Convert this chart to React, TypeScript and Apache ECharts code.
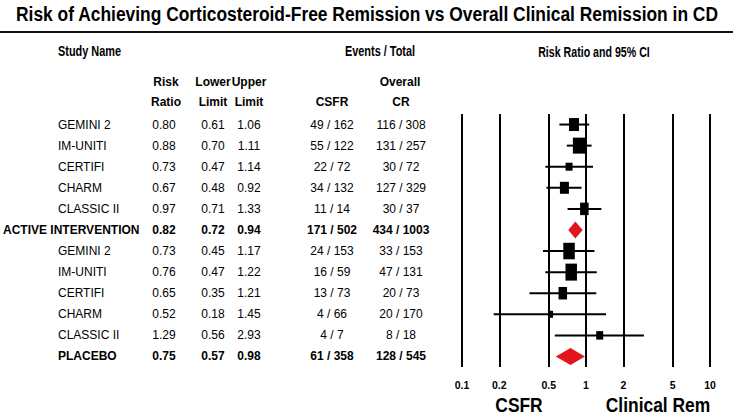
import React, { useEffect, useRef } from "react";
import * as echarts from "echarts";

const studyNames = [
  "GEMINI 2", "IM-UNITI", "CERTIFI", "CHARM", "CLASSIC II", "ACTIVE INTERVENTION",
  "GEMINI 2", "IM-UNITI", "CERTIFI", "CHARM", "CLASSIC II", "PLACEBO",
];
const summaryRows = [5, 11];
const outdentRows = [5];
const riskRatio = [0.80, 0.88, 0.73, 0.67, 0.97, 0.82, 0.73, 0.76, 0.65, 0.52, 1.29, 0.75];
const lowerLimit = [0.61, 0.70, 0.47, 0.48, 0.71, 0.72, 0.45, 0.47, 0.35, 0.18, 0.56, 0.57];
const upperLimit = [1.06, 1.11, 1.14, 0.92, 1.33, 0.94, 1.17, 1.22, 1.21, 1.45, 2.93, 0.98];
const csfrEvents = [
  "49 / 162", "55 / 122", "22 / 72", "34 / 132", "11 / 14", "171 / 502",
  "24 / 153", "16 / 59", "13 / 73", "4 / 66", "4 / 7", "61 / 358",
];
const overallCrEvents = [
  "116 / 308", "131 / 257", "30 / 72", "127 / 329", "30 / 37", "434 / 1003",
  "33 / 153", "47 / 131", "20 / 73", "20 / 170", "8 / 18", "128 / 545",
];
const xTickValues = [0.1, 0.2, 0.5, 1, 2, 5, 10];

// marker sizes (study weights) [width, height]
const markerSizes: (number[] | null)[] = [
  [10, 13], [12.5, 16], [7, 8], [9, 12], [8.5, 12.5], null,
  [11.5, 16.5], [11.5, 17], [8.5, 12.5], [4.5, 7], [7, 8.5], null,
];

const FONT = "'Liberation Sans', Arial, Helvetica, sans-serif";
const GRID_LEFT = 462;
const W = 733;
const H = 418;

function fmtNum(v: number) {
  return v.toFixed(2);
}

function columnAxis(offset: number, align: string, text: (i: number) => string) {
  return {
    type: "category",
    gridIndex: 0,
    position: "left",
    offset,
    inverse: true,
    data: studyNames.map((_, i) => String(i)),
    axisLine: { show: false },
    axisTick: { show: false },
    splitLine: { show: false },
    axisLabel: {
      show: true,
      interval: 0,
      hideOverlap: false,
      margin: 0,
      align,
      formatter: (_v: string, i: number) => {
        const t = text(i);
        if (!t) return "";
        return summaryRows.includes(i) ? `{b|${t}}` : `{n|${t}}`;
      },
      rich: {
        b: { fontFamily: FONT, fontSize: 12, fontWeight: "bold", color: "#000" },
        n: { fontFamily: FONT, fontSize: 12, color: "#000" },
      },
    },
  };
}

export default function App() {
  const ref = useRef<HTMLDivElement>(null);
  useEffect(() => {
    if (!ref.current) return;
    const chart = echarts.init(ref.current, null, { renderer: "svg" });
    const rows = studyNames.map((_, i) => i);
    const studyRows = rows.filter((i) => !summaryRows.includes(i));

    const hdr = (text: string, x: number, y: number, opts: any = {}) => ({
      type: "text",
      x,
      y,
      scaleX: opts.scaleX || 1,
      style: {
        text,
        fill: "#000",
        align: opts.align || "center",
        verticalAlign: "middle",
        font: opts.font || `bold 12px ${FONT}`,
      },
    });

    const option: any = {
      animation: false,
      backgroundColor: "#fff",
      grid: { left: GRID_LEFT, right: W - 710, top: 114, bottom: H - 367, containLabel: false },
      xAxis: {
        type: "log",
        logBase: 10,
        min: 0.1,
        max: 10,
        axisLine: { show: false },
        axisTick: { show: false },
        splitLine: { show: false },
        axisLabel: {
          customValues: xTickValues,
          margin: 12,
          fontFamily: FONT,
          fontWeight: "bold",
          fontSize: 10.5,
          color: "#000",
          formatter: (v: number) => String(+Number(v).toPrecision(2)),
        },
      },
      yAxis: [
        {
          type: "category",
          gridIndex: 0,
          inverse: true,
          data: studyNames.map((_, i) => String(i)),
          show: false,
        },
        columnAxis(GRID_LEFT - 58, "left", (i) => (outdentRows.includes(i) ? "" : studyNames[i])),
        columnAxis(GRID_LEFT - 3, "left", (i) => (outdentRows.includes(i) ? studyNames[i] : "")),
        columnAxis(GRID_LEFT - 164, "center", (i) => fmtNum(riskRatio[i])),
        columnAxis(GRID_LEFT - 213, "center", (i) => fmtNum(lowerLimit[i])),
        columnAxis(GRID_LEFT - 249, "center", (i) => fmtNum(upperLimit[i])),
        columnAxis(GRID_LEFT - 332, "center", (i) => csfrEvents[i]),
        columnAxis(GRID_LEFT - 401, "center", (i) => overallCrEvents[i]),
      ],
      series: [
        {
          type: "line",
          data: [],
          markLine: {
            silent: true,
            symbol: ["none", "none"],
            label: { show: false },
            lineStyle: { color: "#000", width: 2, type: "solid" },
            data: xTickValues.map((v) => ({ xAxis: v })),
          },
        },
        {
          type: "custom",
          xAxisIndex: 0,
          yAxisIndex: 0,
          clip: false,
          encode: { x: [0, 1], y: 2 },
          renderItem: (_p: any, api: any) => {
            const lo = api.coord([api.value(0), api.value(2)]);
            const hi = api.coord([api.value(1), api.value(2)]);
            return {
              type: "line",
              shape: { x1: lo[0], y1: lo[1], x2: hi[0], y2: hi[1] },
              style: { stroke: "#000", lineWidth: 2 },
            };
          },
          data: studyRows.map((i) => [lowerLimit[i], upperLimit[i], i]),
          z: 3,
        },
        {
          type: "scatter",
          xAxisIndex: 0,
          yAxisIndex: 0,
          symbol: "rect",
          itemStyle: { color: "#000", opacity: 1 },
          data: studyRows.map((i) => ({ value: [riskRatio[i], i], symbolSize: markerSizes[i] })),
          z: 4,
        },
        {
          type: "custom",
          xAxisIndex: 0,
          yAxisIndex: 0,
          clip: false,
          encode: { x: [0, 1, 2], y: 3 },
          renderItem: (_p: any, api: any) => {
            const y = api.value(3);
            const mid = api.coord([api.value(0), y]);
            const lo = api.coord([api.value(1), y]);
            const hi = api.coord([api.value(2), y]);
            const h = 8.5;
            return {
              type: "polygon",
              shape: {
                points: [
                  [lo[0], lo[1]],
                  [mid[0], mid[1] - h],
                  [hi[0], hi[1]],
                  [mid[0], mid[1] + h],
                ],
              },
              style: { fill: "#e3141b" },
            };
          },
          data: summaryRows.map((i) => [riskRatio[i], lowerLimit[i], upperLimit[i], i]),
          z: 4,
        },
      ],
      graphic: [
        hdr("Risk of Achieving Corticosteroid-Free Remission vs Overall Clinical Remission in CD", 367, 14, {
          font: `bold 20px ${FONT}`,
          scaleX: 0.87,
        }),
        {
          type: "line",
          shape: { x1: 0, y1: 32, x2: W, y2: 32 },
          style: { stroke: "#111", lineWidth: 2 },
        },
        hdr("Study Name", 58, 52, { align: "left", font: `bold 14px ${FONT}`, scaleX: 0.78 }),
        hdr("Events / Total", 380, 52, { font: `bold 14px ${FONT}`, scaleX: 0.78 }),
        hdr("Risk Ratio and 95% CI", 594, 52, { font: `bold 14px ${FONT}`, scaleX: 0.76 }),
        hdr("Risk", 166, 82),
        hdr("Ratio", 166, 102),
        hdr("Lower", 213, 82),
        hdr("Limit", 213, 102),
        hdr("Upper", 249, 82),
        hdr("Limit", 249, 102),
        hdr("CSFR", 332, 102),
        hdr("Overall", 400, 82),
        hdr("CR", 401, 102),
        hdr("CSFR", 519, 405, { font: `bold 20px ${FONT}`, scaleX: 0.87 }),
        hdr("Clinical Rem", 658, 405, { font: `bold 20px ${FONT}`, scaleX: 0.87 }),
      ],
    };
    chart.setOption(option);
    return () => chart.dispose();
  }, []);
  return <div ref={ref} style={{ position: "fixed", left: 0, top: 0, width: W, height: H }} />;
}
